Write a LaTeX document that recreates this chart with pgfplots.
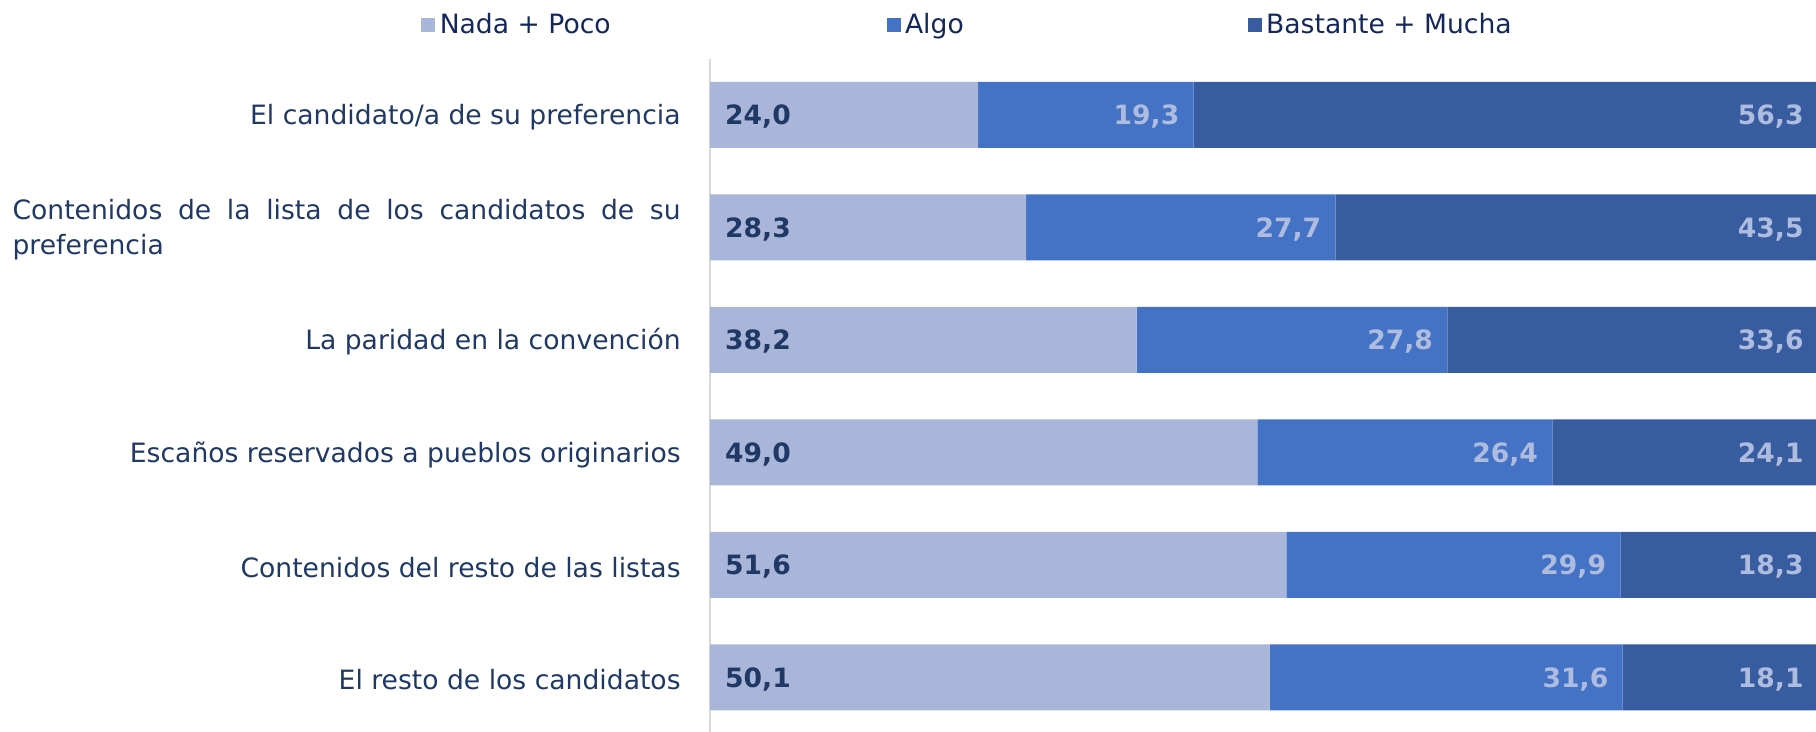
\documentclass[border=0pt]{standalone}
\usepackage{fontspec}
\setmainfont{DejaVu Sans}
\usepackage{pgfplots}
\pgfplotsset{compat=1.18}
\usepackage{pgfplotstable}
\definecolor{c1}{HTML}{A9B6DA}
\definecolor{c2}{HTML}{4472C4}
\definecolor{c3}{HTML}{375DA0}
\definecolor{navy}{HTML}{1F3864}
\definecolor{legnavy}{HTML}{13275A}
\definecolor{lighttxt}{HTML}{AEBCE0}
\definecolor{axgray}{HTML}{D9D9D9}
\pgfplotstableread{
y a b c
0 24.0 19.3 56.3
1 28.3 27.7 43.5
2 38.2 27.8 33.6
3 49.0 26.4 24.1
4 51.6 29.9 18.3
5 50.1 31.6 18.1
}\data
\newcommand{\fnt}{\fontsize{13.3bp}{16bp}\selectfont}
\newcommand{\numlab}{\pgfmathprintnumber[fixed, fixed zerofill, precision=1, use comma, assume math mode=true]{\pgfplotspointmeta}}
\pgfplotsset{labelplot/.style={only marks, mark=*, mark size=0.1pt,
  mark options={draw opacity=0, fill opacity=0}, point meta=explicit,
  nodes near coords={\numlab}}}
\begin{document}
\begin{tikzpicture}[font=\fnt]
\useasboundingbox (-355bp,0.85bp) rectangle (553bp,366.85bp);
\begin{axis}[
  at={(0,0)}, anchor=south west,
  scale only axis, width=553bp, height=337.6bp,
  xbar stacked, bar width=33bp,
  xmin=0, xmax=99, ymin=-0.5, ymax=5.5, y dir=reverse,
  axis x line=none, axis y line*=left,
  every outer y axis line/.append style={-},
  every inner y axis line/.append style={-},
  y axis line style={-, draw=axgray, line width=1bp},
  xtick=\empty, ytick={0,1,2,3,4,5},
  ytick style={draw=none}, major tick length=0pt,
  yticklabels={El candidato/a de su preferencia,
    {\parbox{334bp}{\fontsize{13.3bp}{17.4bp}\selectfont Contenidos de la lista de los candidatos de su \mbox{preferencia}}},
    La paridad en la convención,
    Escaños reservados a pueblos originarios,
    Contenidos del resto de las listas,
    El resto de los candidatos},
  yticklabel style={font=\fnt, text=navy, inner sep=0pt, anchor=east, xshift=-14.5bp, yshift=-1.1bp},
  legend columns=3,
  legend cell align=left,
  legend image code/.code={\fill[#1] (0bp,-3.5bp) rectangle (7bp,3.5bp);},
  legend style={at={(rel axis cs:0,1)}, anchor=west, xshift=-144.5bp, yshift=17bp,
    draw=none, fill=none, inner sep=0pt, font=\fnt, text=legnavy,
    nodes={inner sep=0pt},
    /tikz/every odd column/.append style={column sep=2.2bp},
    /tikz/column 2/.append style={column sep=138bp},
    /tikz/column 4/.append style={column sep=142bp}},
]
\addplot[draw=none, fill=c1] table[x=a, y=y] {\data};
\addlegendentry{Nada + Poco}
\addplot[draw=none, fill=c2] table[x=b, y=y] {\data};
\addlegendentry{Algo}
\addplot[draw=none, fill=c3] table[x=c, y=y] {\data};
\addlegendentry{Bastante + Mucha}
\end{axis}
\begin{axis}[
  at={(0,0)}, anchor=south west,
  scale only axis, width=553bp, height=337.6bp,
  xmin=0, xmax=99, ymin=-0.5, ymax=5.5, y dir=reverse,
  hide axis, clip=false,
]
\addplot[labelplot,
  every node near coord/.style={anchor=west, inner sep=0pt, xshift=7.4bp, yshift=-0.9bp, opacity=1, text opacity=1, text=navy, font=\fnt\bfseries}]
  table[x expr=0, y=y, meta=a] {\data};
\addplot[labelplot,
  every node near coord/.style={anchor=east, inner sep=0pt, xshift=-7bp, yshift=-0.9bp, opacity=1, text opacity=1, text=lighttxt, font=\fnt\bfseries}]
  table[x expr=\thisrow{a}+\thisrow{b}, y=y, meta=b] {\data};
\addplot[labelplot,
  every node near coord/.style={anchor=east, inner sep=0pt, xshift=-6bp, yshift=-0.9bp, opacity=1, text opacity=1, text=lighttxt, font=\fnt\bfseries}]
  table[x expr=99, y=y, meta=c] {\data};
\end{axis}
\end{tikzpicture}
\end{document}
